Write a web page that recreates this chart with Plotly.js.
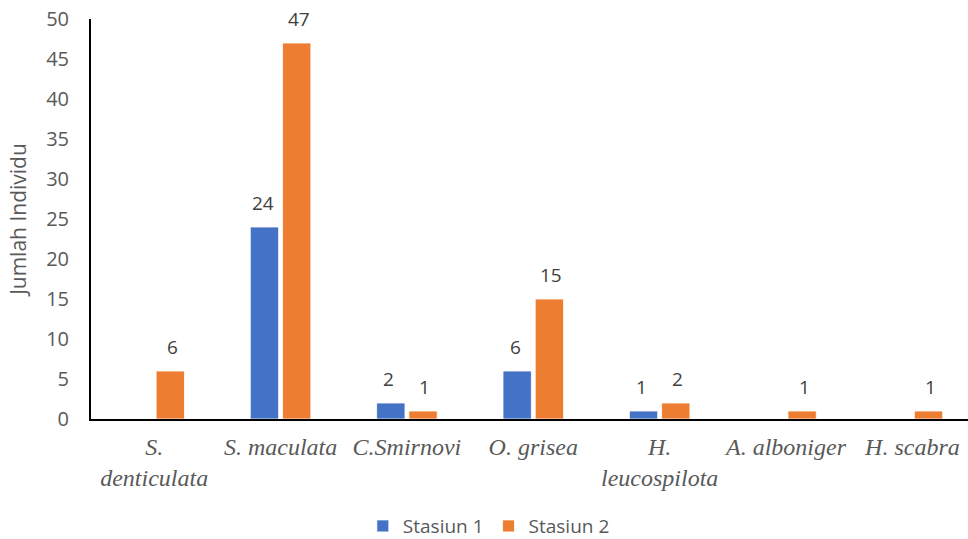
<!DOCTYPE html>
<html>
<head>
<meta charset="utf-8">
<script src="https://cdn.plot.ly/plotly-3.0.1.min.js"></script>
<style>html,body{margin:0;padding:0;background:#fff;}#chart{width:968px;height:539px;}</style>
</head>
<body>
<div id="chart"></div>
<script>
var categories = ["S.<br>denticulata", "S. maculata", "C.Smirnovi", "O. grisea", "H.<br>leucospilota", "A. alboniger", "H. scabra"];
var stasiun1 = [null, 24, 2, 6, 1, null, null];
var stasiun2 = [6, 47, 1, 15, 2, 1, 1];
var seriesNames = ["Stasiun 1", "Stasiun 2"];
var yTicks = [0, 5, 10, 15, 20, 25, 30, 35, 40, 45, 50];

var labelFont = {family: "Open Sans, sans-serif", size: 19, color: "#404040"};

var traces = [
  {type: "bar", name: seriesNames[0], x: categories, y: stasiun1, hoverinfo: "x+y",
   marker: {color: "#4472C4", line: {color: "#ffffff", width: 0.8}}},
  {type: "bar", name: seriesNames[1], x: categories, y: stasiun2, hoverinfo: "x+y",
   marker: {color: "#ED7D31", line: {color: "#ffffff", width: 0.8}}}
];

var annotations = [];
[stasiun1, stasiun2].forEach(function(series, si){
  series.forEach(function(v, i){
    if (v === null) return;
    annotations.push({x: categories[i], y: v, text: String(v), showarrow: false,
      xref: "x", yref: "y", xanchor: "center", yanchor: "bottom",
      xshift: si === 0 ? -18 : 18, yshift: 9, font: labelFont});
  });
});

var layout = {
  width: 968, height: 539,
  margin: {l: 91, r: 0, t: 19, b: 120},
  paper_bgcolor: "#ffffff", plot_bgcolor: "#ffffff",
  barmode: "group", bargap: 0.49, bargroupgap: 0.12,
  showlegend: true,
  annotations: annotations,
  legend: {orientation: "h", xref: "container", yref: "container", x: 0.505, xanchor: "center", y: 0.024, yanchor: "middle",
           font: {family: "Open Sans, sans-serif", size: 19, color: "#595959"}, itemwidth: 30, traceorder: "normal"},
  xaxis: {
    type: "category", range: [-0.5, 6.44],
    showline: true, linecolor: "#000000", linewidth: 2,
    ticks: "outside", ticklen: 5, tickcolor: "rgba(0,0,0,0)",
    tickfont: {family: "Liberation Serif, serif", size: 24, color: "#595959", style: "italic"},
    showgrid: false, zeroline: false, automargin: false
  },
  yaxis: {
    range: [0, 50], tickvals: yTicks, ticktext: yTicks.map(String),
    showline: true, linecolor: "#000000", linewidth: 2,
    ticks: "outside", ticklen: 16, tickcolor: "rgba(0,0,0,0)",
    tickfont: {family: "Open Sans, sans-serif", size: 20, color: "#595959"},
    showgrid: false, zeroline: false, automargin: false,
    title: {text: "Jumlah Individu", font: {family: "Open Sans, sans-serif", size: 21, color: "#595959"}, standoff: 14}
  },
  font: {family: "Open Sans, sans-serif", color: "#595959"}
};

Plotly.newPlot("chart", traces, layout, {displayModeBar: false, staticPlot: true});
</script>
</body>
</html>
